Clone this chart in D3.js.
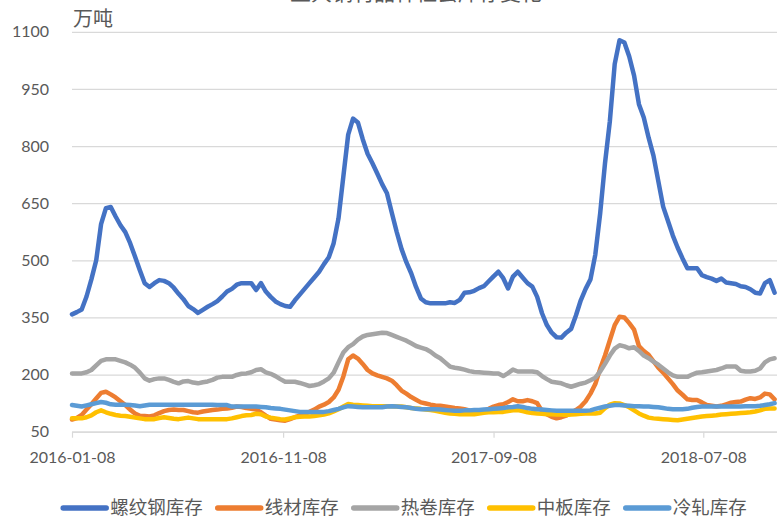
<!DOCTYPE html>
<html>
<head>
<meta charset="utf-8">
<script src="https://cdn.jsdelivr.net/npm/d3@7"></script>
<style>
  html, body { margin: 0; padding: 0; background: #fff; overflow: hidden; }
  svg { display: block; }
</style>
</head>
<body>
<svg id="chart" width="777" height="519"></svg>
<script>
// Weekly series, first week ending 2016-01-08 (万吨)
const startDate = "2016-01-08";

const rebar = [
  358,364,371,405,450,500,595,637,640,615,
  592,574,545,510,474,440,430,440,448,446,
  440,428,412,398,380,372,362,370,378,385,
  393,405,418,425,436,440,440,440,422,440,
  418,404,392,385,380,378,395,410,425,440,
  455,470,490,508,545,610,720,830,872,862,
  818,780,755,728,700,676,625,575,530,495,
  466,430,400,390,387,387,387,387,390,388,
  396,415,416,420,427,432,445,458,470,453,
  426,457,470,455,440,431,404,361,330,310,
  298,297,310,320,355,395,425,450,515,623,
  755,865,1015,1078,1072,1035,985,910,875,822,
  775,708,641,603,565,533,505,479,479,479,
  461,456,452,446,452,442,440,438,432,430,
  424,415,413,440,448,415
];

const wire = [
  82,86,94,108,122,137,152,155,148,140,
  130,120,108,98,92,91,90,93,99,104,
  107,108,107,107,104,101,100,103,105,107,
  108,110,111,113,116,115,112,110,108,101,
  92,84,82,80,79,83,88,92,97,102,
  108,116,121,128,140,160,195,240,250,242,
  228,212,203,198,194,190,184,172,158,150,
  141,134,127,124,121,119,118,116,114,112,
  111,109,106,105,105,105,110,116,120,122,
  128,135,130,130,133,130,125,104,96,89,
  85,88,92,100,107,116,130,150,175,215,
  250,290,330,352,350,335,318,275,262,252,
  235,218,205,190,175,158,147,135,133,133,
  127,120,118,116,118,122,126,128,129,134,
  138,136,140,150,148,135
];

const hotCoil = [
  203,203,203,206,212,224,236,240,240,240,
  236,232,226,218,205,190,184,188,190,190,
  186,181,177,182,183,179,177,180,182,186,
  192,194,194,194,199,202,203,206,212,214,
  206,202,196,188,181,181,181,178,174,170,
  172,175,182,190,205,232,258,272,280,292,
  300,304,306,308,310,309,304,299,294,289,
  282,275,271,267,260,250,243,232,221,218,
  216,213,209,207,206,205,204,203,203,196,
  204,213,208,208,208,208,206,196,188,181,
  179,177,172,168,172,176,179,185,192,208,
  228,250,268,277,274,269,272,262,250,243,
  234,226,216,206,198,194,194,194,200,205,
  206,208,210,212,216,221,221,221,210,208,
  208,210,216,232,240,243
];

const plate = [
  85,85,85,88,93,101,106,101,97,94,
  92,91,89,87,85,83,83,83,86,88,
  86,84,83,85,87,85,83,83,83,83,
  83,83,83,85,88,91,93,94,97,96,
  90,87,85,83,82,85,88,89,90,90,
  91,93,95,98,103,109,116,123,121,120,
  119,118,117,117,117,117,117,116,116,114,
  112,111,110,108,107,105,102,100,98,97,
  96,96,96,96,98,100,101,101,102,102,
  104,106,107,104,101,99,98,97,96,96,
  95,95,94,95,96,97,98,98,98,100,
  112,121,125,124,120,114,106,98,92,87,
  85,84,83,82,81,80,82,84,86,88,
  90,91,92,93,95,96,97,98,99,100,
  101,103,106,110,111,111
];

const coldRolled = [
  120,118,116,119,122,125,128,126,122,121,
  121,121,120,119,117,119,121,121,121,121,
  121,121,121,121,121,121,121,121,121,121,
  120,120,120,116,116,116,116,116,116,115,
  114,112,111,110,108,106,104,102,102,102,
  102,102,102,104,107,110,114,117,116,115,
  114,114,114,114,114,116,117,116,115,114,
  112,110,109,109,109,109,108,107,106,105,
  105,106,106,107,107,108,109,110,111,112,
  114,115,117,115,112,110,109,108,107,106,
  105,105,105,105,105,105,105,106,110,113,
  116,118,120,120,119,118,117,117,116,116,
  115,114,112,110,109,109,109,110,113,115,
  116,116,116,116,116,116,116,116,116,117,
  117,117,118,120,122,125
];

const seriesNames = ["螺纹钢库存", "线材库存", "热卷库存", "中板库存", "冷轧库存"];
const seriesColors = ["#4472C4", "#ED7D31", "#A5A5A5", "#FFC000", "#5B9BD5"];
const xTickLabels = ["2016-01-08", "2016-11-08", "2017-09-08", "2018-07-08"];
const yTicks = [50, 200, 350, 500, 650, 800, 950, 1100];
const unitLabel = "万吨";
const titleText = "五大钢材品种社会库存变化";

// ---- build ----
const parseDate = d3.timeParse("%Y-%m-%d");
const fmtDate = d3.timeFormat("%Y-%m-%d");
const start = parseDate(startDate);
const seriesValues = [rebar, wire, hotCoil, plate, coldRolled];
const dates = rebar.map((_, i) => d3.timeDay.offset(start, 7 * i));

const svg = d3.select("#chart");
const plotLeft = 72, plotRight = 777, plotTop = 31.8, plotBottom = 431.7;

const x = d3.scaleTime()
  .domain([start, parseDate(xTickLabels[xTickLabels.length - 1])])
  .range([plotLeft, 703.3]);
x.domain([start, x.invert(plotRight)]).range([plotLeft, plotRight]);

const y = d3.scaleLinear().domain([50, 1100]).range([plotBottom, plotTop]);

const textColor = "#595959";
const gridColor = "#D9D9D9";
const latin = "Lato, 'Open Sans', sans-serif";
const cjk = "'Noto Sans CJK SC', 'Noto Sans', sans-serif";

// title (mostly above the top edge of the frame)
svg.append("text")
  .attr("x", 416).attr("y", -0.5)
  .attr("text-anchor", "middle")
  .attr("font-family", cjk).attr("font-size", 21)
  .attr("fill", textColor)
  .text(titleText);

// unit label
svg.append("text")
  .attr("x", 73).attr("y", 26)
  .attr("font-family", cjk).attr("font-size", 20)
  .attr("fill", textColor)
  .text(unitLabel);

// horizontal gridlines + y labels
const yAxis = d3.axisLeft(y)
  .tickValues(yTicks)
  .tickFormat(d3.format("d"))
  .tickSize(-(plotRight - plotLeft))
  .tickPadding(23);
const gy = svg.append("g").attr("transform", `translate(${plotLeft},0)`).call(yAxis);
gy.select(".domain").remove();
gy.selectAll(".tick line").attr("stroke", gridColor).attr("stroke-width", 1.2);
gy.selectAll(".tick text")
  .attr("font-family", latin).attr("font-size", 16)
  .attr("fill", textColor);

// x axis
const xAxis = d3.axisBottom(x)
  .tickValues(xTickLabels.map(parseDate))
  .tickFormat(fmtDate)
  .tickSizeInner(6).tickSizeOuter(0).tickPadding(14);
const gx = svg.append("g").attr("transform", `translate(0,${plotBottom})`).call(xAxis);
gx.select(".domain").attr("stroke", gridColor).attr("stroke-width", 1.2);
gx.selectAll(".tick line").attr("stroke", gridColor).attr("stroke-width", 1.2);
gx.selectAll(".tick text")
  .attr("font-family", latin).attr("font-size", 16)
  .attr("fill", textColor);

// series lines
const line = d3.line()
  .x((d, i) => x(dates[i]))
  .y(d => y(d));

svg.append("g").selectAll("path")
  .data(seriesValues)
  .join("path")
  .attr("d", d => line(d))
  .attr("fill", "none")
  .attr("stroke", (d, i) => seriesColors[i])
  .attr("stroke-width", 4.5)
  .attr("stroke-linejoin", "round")
  .attr("stroke-linecap", "round");

// legend
const legend = svg.append("g");
const swatch = 43, swGap = 4, itemGap = 15, legendY = 508, legendCenter = 405;
const items = seriesNames.map((name, i) => {
  const g = legend.append("g");
  g.append("line")
    .attr("x1", 0).attr("x2", swatch)
    .attr("y1", 0).attr("y2", 0)
    .attr("stroke", seriesColors[i])
    .attr("stroke-width", 5.5)
    .attr("stroke-linecap", "round");
  const t = g.append("text")
    .attr("x", swatch + swGap).attr("y", 0)
    .attr("dy", "0.35em")
    .attr("font-family", cjk).attr("font-size", 18.5)
    .attr("fill", textColor)
    .text(name);
  return { g, w: swatch + swGap + t.node().getComputedTextLength() };
});
const total = d3.sum(items, d => d.w) + itemGap * (items.length - 1);
let cx = legendCenter - total / 2;
items.forEach(it => {
  it.g.attr("transform", `translate(${cx},${legendY})`);
  cx += it.w + itemGap;
});
</script>
</body>
</html>
